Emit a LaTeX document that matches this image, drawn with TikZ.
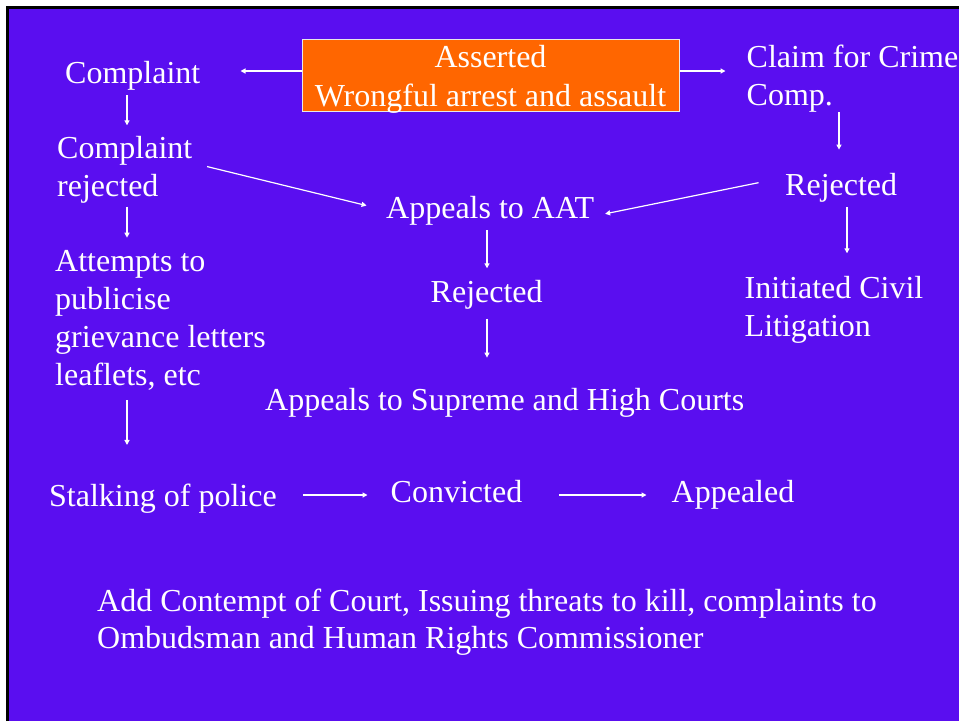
\documentclass[tikz,border=0pt]{standalone}
\usepackage{fontspec}
\setmainfont{Liberation Serif}
\usetikzlibrary{arrows.meta}

\definecolor{slidebg}{RGB}{90,14,240}
\definecolor{boxorange}{RGB}{255,102,0}
\definecolor{boxline}{RGB}{232,232,232}

\tikzset{
    txt/.style={anchor=base west, align=left, inner sep=0pt, text=white,
        font=\fontsize{32}{38}\selectfont},
    flow/.style={draw=white, line width=1.2pt, -{Triangle[length=5pt, width=5pt]}},
}

\begin{document}
\begin{tikzpicture}[x=1pt, y=-1pt]
    \useasboundingbox (0,0) rectangle (959,721);
    \fill[white] (0,0) rectangle (959,721);
    \fill[slidebg] (9,9) rectangle (959,721);
    \draw[black, line width=3pt] (7.5,721) -- (7.5,7.5) -- (959,7.5);

    \node[draw=boxline, fill=boxorange, line width=1pt, inner sep=0pt, text=white,
        align=center, minimum width=377pt, minimum height=72pt,
        font=\fontsize{32}{39}\selectfont, text height=66pt, text depth=4pt]
        (assert) at (490.5,75) {Asserted\\Wrongful arrest and assault};

    % multi-line texts sit on the baseline of their last line
    \node[txt] (cmp) at (65,83) {Complaint};
    \node[txt] (cmprej) at (57,196.7) {Complaint\\rejected};
    \node[txt] (attempts) at (55,385) {Attempts to\\publicise\\grievance letters\\leaflets, etc};
    \node[txt] (stalk) at (49,506.7) {Stalking of police};
    \node[txt] (convict) at (390.5,502.7) {Convicted};
    \node[txt] (appealed) at (671.5,502.7) {Appealed};
    \node[txt] (aat) at (386,218) {Appeals to AAT};
    \node[txt] (rej) at (430.5,302.7) {Rejected};
    \node[txt] (courts) at (265,410) {Appeals to Supreme and High Courts};
    \node[txt] (claim) at (746.5,105) {Claim for Crime\\Comp.};
    \node[txt] (rejright) at (785,195) {Rejected};
    \node[txt] (civil) at (744.5,336.7) {Initiated Civil\\Litigation};
    \node[txt, font=\fontsize{32}{37}\selectfont] (note) at (97,648)
        {Add Contempt of Court, Issuing threats to kill, complaints to\\Ombudsman and Human Rights Commissioner};

    % lines the arrows run on
    \coordinate (toprow) at (0,71);
    \coordinate (lowrow) at (0,495);
    \coordinate (lcol) at (127,0);
    \coordinate (mcol) at (487,0);
    \coordinate (rcol) at (839,0);
    \coordinate (rcol2) at (847,0);

    \draw[flow, shorten >=40pt] (assert.west |- toprow) -- (cmp.east |- toprow);
    \draw[flow, shorten >=21pt] (assert.east |- toprow) -- (claim.west |- toprow);

    \draw[flow, shorten <=5pt, shorten >=11pt] (cmp.south -| lcol) -- (cmprej.north -| lcol);
    \draw[flow, shorten <=3pt, shorten >=12pt] (cmprej.south -| lcol) -- (attempts.north -| lcol);
    \draw[flow, shorten <=10pt, shorten >=39pt] (attempts.south -| lcol) -- (stalk.north -| lcol);
    \draw[flow, shorten <=26pt, shorten >=23pt] (stalk.east |- lowrow) -- (convict.west |- lowrow);
    \draw[flow, shorten <=37pt, shorten >=25pt] (convict.east |- lowrow) -- (appealed.west |- lowrow);

    \draw[flow, shorten <=15pt, shorten >=20pt] ([yshift=7pt]cmprej.east) -- (aat.west);
    \draw[flow, shorten <=27pt, shorten >=11pt] ([yshift=10pt]rejright.west) -- ([yshift=-5.7pt]aat.east);

    \draw[flow, shorten <=5pt, shorten >=12pt] (aat.south -| mcol) -- (rej.north -| mcol);
    \draw[flow, shorten <=9pt, shorten >=30pt] (rej.south -| mcol) -- (courts.north -| mcol);

    \draw[flow, shorten >=23pt] (claim.south -| rcol) -- (rejright.north -| rcol);
    \draw[flow, shorten <=5pt, shorten >=23pt] (rejright.south -| rcol2) -- (civil.north -| rcol2);
\end{tikzpicture}
\end{document}
